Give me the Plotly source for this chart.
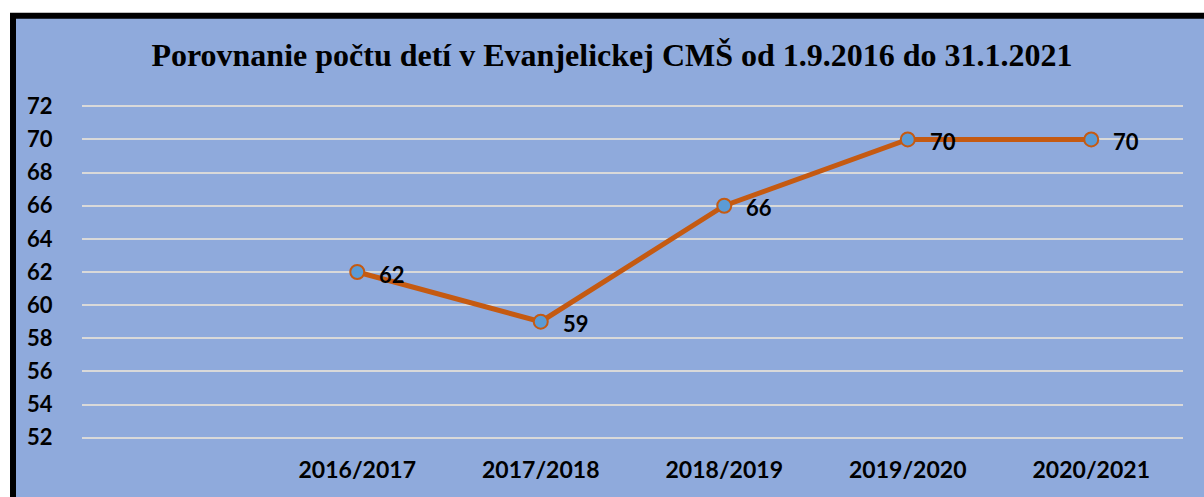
import plotly.graph_objects as go

title_text = "Porovnanie počtu detí v Evanjelickej CMŠ od 1.9.2016 do 31.1.2021"
years = ["2016/2017", "2017/2018", "2018/2019", "2019/2020", "2020/2021"]
children = [62, 59, 66, 70, 70]
y_ticks = [52, 54, 56, 58, 60, 62, 64, 66, 68, 70, 72]

x_pos = list(range(1, len(years) + 1))

W, H = 1204, 497
# pixel positions of y=52 and y=72 in the reference
Y52, Y72 = 437.5, 106.5
pad = 0.2
ppu = (Y52 - Y72) / 20.0
T = Y72 - pad * ppu
B = H - (Y52 + pad * ppu)
L, R = 82, 21
pw, ph = W - L - R, H - T - B

def px_x(p):
    return (p - L) / pw

def px_y(p):
    return (H - B - p) / ph

SANS = "Lato, Open Sans, sans-serif"

fig = go.Figure()
fig.add_trace(go.Scatter(
    x=x_pos, y=children,
    mode="lines+markers",
    line=dict(color="#c55a11", width=5),
    marker=dict(size=14, color="#5b9bd5", line=dict(color="#c55a11", width=2)),
    cliponaxis=False,
    hoverinfo="skip",
))

for xv, yv in zip(x_pos, children):
    fig.add_annotation(
        x=xv, y=yv, text=f"<b>{yv}</b>", showarrow=False,
        xanchor="left", yanchor="middle", xshift=20, yshift=-2,
        font=dict(family=SANS, size=22, color="black"),
    )

fig.add_shape(
    type="rect", xref="paper", yref="paper",
    x0=px_x(13), x1=px_x(1230), y0=px_y(16), y1=px_y(520),
    line=dict(color="black", width=6), fillcolor="#8faadc", layer="below",
)

fig.update_layout(
    width=W, height=H,
    margin=dict(l=L, r=R, t=T, b=B, pad=0, autoexpand=False),
    paper_bgcolor="white",
    plot_bgcolor="rgba(0,0,0,0)",
    showlegend=False,
    title=dict(
        text=f"<b>{title_text}</b>",
        x=612 / W, xref="container", xanchor="center",
        y=1 - 55 / H, yref="container", yanchor="middle",
        font=dict(family="Liberation Serif, Times New Roman, serif", size=32, color="black"),
    ),
    xaxis=dict(
        range=[-0.5, 5.5],
        tickvals=x_pos, ticktext=[f"<b>{t}</b>" for t in years],
        showgrid=False, zeroline=False, showline=False,
        ticks="outside", ticklen=8, tickcolor="rgba(0,0,0,0)",
        tickfont=dict(family=SANS, size=23, color="black"),
        automargin=False,
        fixedrange=True,
    ),
    yaxis=dict(
        range=[52 - pad, 72 + pad],
        tickvals=y_ticks, ticktext=[f"<b>{v}</b>" for v in y_ticks],
        showgrid=True, gridcolor="#d9d9d9", gridwidth=2,
        zeroline=False, showline=False,
        ticks="outside", ticklen=24, tickcolor="rgba(0,0,0,0)",
        tickfont=dict(family=SANS, size=22, color="black"),
        automargin=False,
        fixedrange=True,
    ),
)

fig.write_html(
    "out.html",
    config={"displayModeBar": False, "staticPlot": True},
    post_script="document.body.style.margin='0px';document.body.style.overflow='hidden';",
)
